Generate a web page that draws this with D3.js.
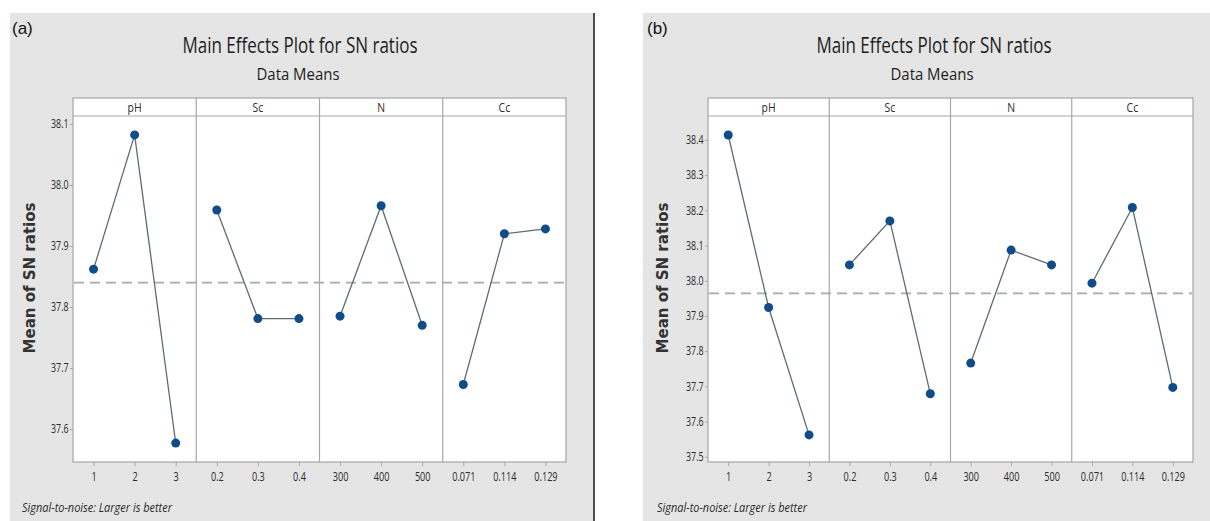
<!DOCTYPE html>
<html>
<head>
<meta charset="utf-8">
<script src="https://cdn.jsdelivr.net/npm/d3@7"></script>
<style>
    body { margin: 0; background: #fff; }
    text { font-family: "Open Sans", sans-serif; fill: #2b2b2b; }
</style>
</head>
<body>
<script>
// factors and their levels (same for both experiments)
const factors  = ["pH", "Sc", "N", "Cc"];
const phLevels = ["1", "2", "3"];
const scLevels = ["0.2", "0.3", "0.4"];
const nLevels  = ["300", "400", "500"];
const ccLevels = ["0.071", "0.114", "0.129"];
const levels   = [phLevels, scLevels, nLevels, ccLevels];

// (a) mean of SN ratios per level
const meansA   = [
    [37.862, 38.082, 37.577],
    [37.959, 37.781, 37.781],
    [37.785, 37.966, 37.770],
    [37.673, 37.920, 37.928]
];
const overallA = 37.84;
const yTicksA  = [37.6, 37.7, 37.8, 37.9, 38.0, 38.1];

// (b)
const meansB   = [
    [38.414, 37.924, 37.562],
    [38.045, 38.170, 37.679],
    [37.766, 38.087, 38.045],
    [37.993, 38.208, 37.697]
];
const overallB = 37.964;
const yTicksB  = [37.5, 37.6, 37.7, 37.8, 37.9, 38.0, 38.1, 38.2, 38.3, 38.4];

const width = 1210;
const height = 521;

const svg = d3.select("body").append("svg")
    .attr("width", width)
    .attr("height", height);

svg.append("rect").attr("width", width).attr("height", height).attr("fill", "#fff");

// gray panels behind each figure
svg.append("rect").attr("x", 10).attr("y", 13).attr("width", 584).attr("height", height - 13).attr("fill", "#e5e5e5");
svg.append("line").attr("x1", 594).attr("x2", 594).attr("y1", 13).attr("y2", height)
    .attr("stroke", "#4d4d4d").attr("stroke-width", 2);
svg.append("rect").attr("x", 643).attr("y", 13).attr("width", width - 643).attr("height", height - 13).attr("fill", "#e5e5e5");

// text squeezed horizontally, the original font is a narrow one
function squeezed(parent, x, y, str, size, k) {
    const g = parent.append("g").attr("transform", `translate(${x},${y})`);
    return g.append("text")
        .attr("transform", `scale(${k},1)`)
        .attr("font-size", size)
        .text(str);
}

function drawChart(cfg) {
    const top = 98, headBottom = 116, bottom = 462;
    const pw = (cfg.right - cfg.left) / factors.length;

    const y = d3.scaleLinear()
        .domain(cfg.yDomain)
        .range([bottom, headBottom]);

    const g = svg.append("g");

    // tag
    g.append("text")
        .attr("x", cfg.tagX).attr("y", 34)
        .style("font-family", "'Liberation Sans', Arial, sans-serif")
        .attr("font-size", 17)
        .style("fill", "#111")
        .text(cfg.tag);

    // titles
    g.append("text")
        .attr("x", cfg.titleX).attr("y", 53)
        .attr("text-anchor", "middle")
        .attr("font-size", 21)
        .style("fill", "#1e1e1e")
        .attr("textLength", 235).attr("lengthAdjust", "spacingAndGlyphs")
        .text("Main Effects Plot for SN ratios");
    g.append("text")
        .attr("x", cfg.titleX - 2).attr("y", 80)
        .attr("text-anchor", "middle")
        .attr("font-size", 16)
        .style("fill", "#1e1e1e")
        .attr("textLength", 83).attr("lengthAdjust", "spacingAndGlyphs")
        .text("Data Means");

    // plot body
    g.append("rect")
        .attr("x", cfg.left).attr("y", top)
        .attr("width", cfg.right - cfg.left).attr("height", bottom - top)
        .attr("fill", "#fff");

    // header strip
    g.append("line")
        .attr("x1", cfg.left).attr("x2", cfg.right)
        .attr("y1", headBottom).attr("y2", headBottom)
        .attr("stroke", "#a6a6a6");

    factors.forEach((f, i) => {
        const x0 = cfg.left + i * pw;
        if (i > 0) {
            g.append("line")
                .attr("x1", x0).attr("x2", x0)
                .attr("y1", top).attr("y2", bottom)
                .attr("stroke", "#a6a6a6").attr("stroke-width", 1.2);
        }
        squeezed(g, x0 + pw / 2, 112, f, 13, 0.8).attr("text-anchor", "middle");
    });

    // reference line at the overall mean
    g.append("line")
        .attr("x1", cfg.left + 1).attr("x2", cfg.right - 1)
        .attr("y1", y(cfg.overall)).attr("y2", y(cfg.overall))
        .attr("stroke", "#a9a9a9")
        .attr("stroke-width", 1.6)
        .attr("stroke-dasharray", "10,6");

    factors.forEach((f, i) => {
        const x0 = cfg.left + i * pw;
        const x = d3.scalePoint()
            .domain(levels[i])
            .range([x0, x0 + pw])
            .padding(0.5);

        const line = d3.line()
            .x((d, j) => x(levels[i][j]))
            .y(d => y(d));

        g.append("path")
            .datum(cfg.means[i])
            .attr("fill", "none")
            .attr("stroke", "#5a6e74")
            .attr("stroke-width", 1.3)
            .attr("d", line);

        g.selectAll(null)
            .data(cfg.means[i])
            .enter()
            .append("circle")
                .attr("cx", (d, j) => x(levels[i][j]))
                .attr("cy", d => y(d))
                .attr("r", 4.5)
                .attr("fill", "#0f4c88");

        const xAxis = d3.axisBottom(x).tickSize(4).tickPadding(6);
        g.append("g")
            .attr("transform", `translate(0,${bottom})`)
            .call(xAxis)
            .call(a => a.select(".domain").remove())
            .call(a => a.selectAll("line").attr("stroke", "#a6a6a6"))
            .call(a => a.selectAll("text")
                .attr("font-size", 12)
                .attr("font-family", null)
                .attr("transform", "scale(0.76,1)")
                .style("fill", "#2b2b2b"));
    });

    // frame
    g.append("rect")
        .attr("x", cfg.left).attr("y", top)
        .attr("width", cfg.right - cfg.left).attr("height", bottom - top)
        .attr("fill", "none")
        .attr("stroke", "#a6a6a6").attr("stroke-width", 1.2);

    const yAxis = d3.axisLeft(y)
        .tickValues(cfg.yTicks)
        .tickFormat(d3.format(".1f"))
        .tickSize(3)
        .tickPadding(3);

    g.append("g")
        .attr("transform", `translate(${cfg.left},0)`)
        .call(yAxis)
        .call(a => a.select(".domain").remove())
        .call(a => a.selectAll("line").attr("stroke", "#a6a6a6"))
        .call(a => a.selectAll("text")
            .attr("font-size", 12)
            .attr("font-family", null)
            .attr("transform", "scale(0.74,1)")
            .style("fill", "#2b2b2b"));

    // y title
    g.append("text")
        .attr("transform", `translate(${cfg.ylabX},278) rotate(-90)`)
        .attr("text-anchor", "middle")
        .style("font-family", "'DejaVu Sans', Verdana, sans-serif")
        .style("fill", "#333")
        .attr("font-size", 15)
        .attr("font-weight", "bold")
        .attr("textLength", 151).attr("lengthAdjust", "spacingAndGlyphs")
        .text("Mean of SN ratios");

    // footnote
    g.append("text")
        .attr("x", cfg.noteX).attr("y", 512)
        .attr("font-size", 12)
        .attr("font-style", "italic")
        .attr("textLength", 150).attr("lengthAdjust", "spacingAndGlyphs")
        .text("Signal-to-noise: Larger is better");
}

drawChart({
    tag: "(a)", tagX: 12,
    left: 73, right: 566,
    titleX: 300, ylabX: 35, noteX: 22,
    means: meansA, overall: overallA,
    yDomain: [37.546, 38.113], yTicks: yTicksA
});

drawChart({
    tag: "(b)", tagX: 647,
    left: 708, right: 1193,
    titleX: 934, ylabX: 668, noteX: 657,
    means: meansB, overall: overallB,
    yDomain: [37.485, 38.468], yTicks: yTicksB
});
</script>
</body>
</html>
